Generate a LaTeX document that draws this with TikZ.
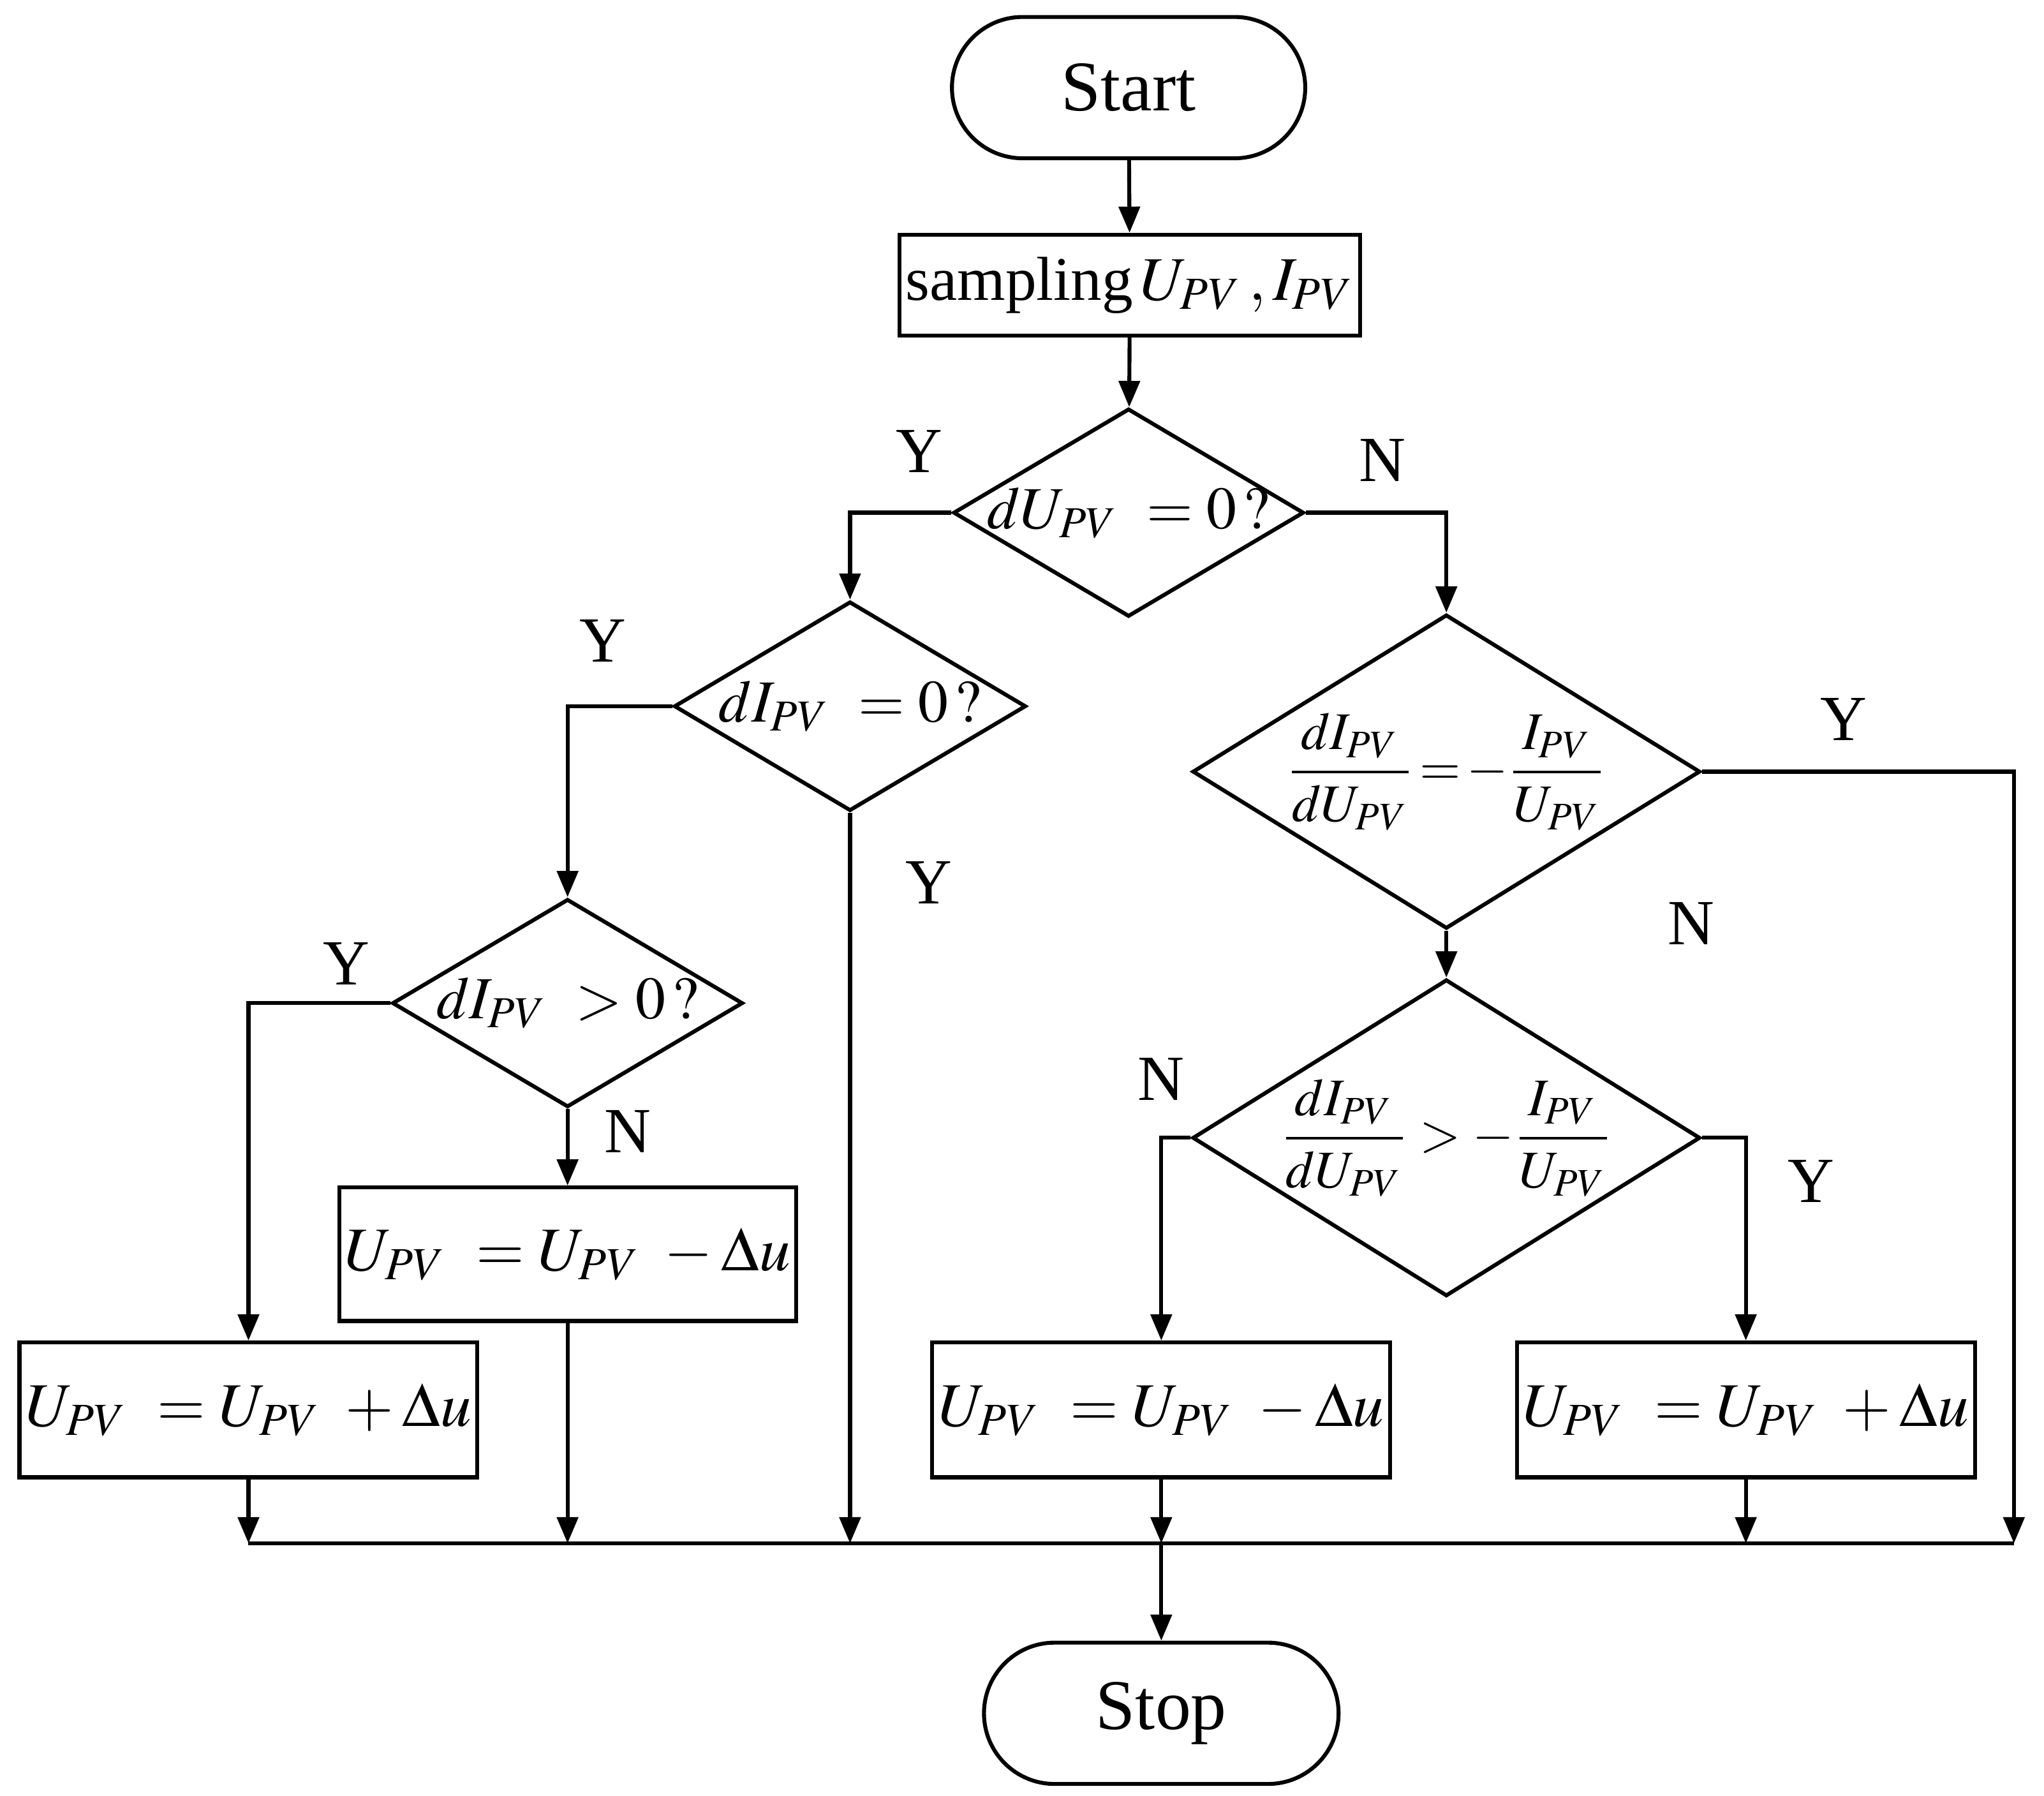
\documentclass[tikz,border=0pt]{standalone}
\usepackage{amsmath}
\usepackage{mathptmx}
\usepackage{fontspec}
\setmainfont{Liberation Serif}
\usetikzlibrary{shapes.geometric,arrows.meta}
\begin{document}
\begin{tikzpicture}[x=0.01cm,y=-0.01cm,line width=0.85pt,
  every node/.style={font=\fontsize{12}{14}\selectfont},
  term/.style={draw,rounded corners=0.54cm,minimum width=2.7cm,minimum height=1.08cm,inner sep=0pt,font=\fontsize{15.5}{18}\selectfont},
  box/.style={draw,minimum width=3.5cm,minimum height=1.03cm,inner sep=0pt,font=\fontsize{13.5}{16}\selectfont},
  dec/.style={draw,diamond,inner sep=0pt},
  dtxt/.style={font=\fontsize{13}{15}\selectfont},
  ftxt/.style={font=\fontsize{11.5}{14}\selectfont},
  lbl/.style={font=\fontsize{14}{17}\selectfont},
  arr/.style={-{Triangle[length=0.2cm,width=0.16cm]}}]
\useasboundingbox (0,0) rectangle (1563,1373);
\node[term] (start) at (863,67) {Start};
\node[draw,minimum width=3.52cm,minimum height=0.77cm,inner sep=0pt,font=\fontsize{13.5}{16}\selectfont] (samp) at (864,218) {sampling$\,U_{PV}\,, I_{PV}$};
\node[dec,minimum width=2.68cm,minimum height=1.59cm] (d1) at (863,392) {};
\node[dtxt] at (d1) {$dU_{PV}\ =0\,?$};
\node[dec,minimum width=2.69cm,minimum height=1.6cm] (d2) at (650,540) {};
\node[dtxt] at (d2) {$dI_{PV}\ =0\,?$};
\node[dec,minimum width=2.68cm,minimum height=1.59cm] (d3) at (434,767) {};
\node[dtxt] at (d3) {$dI_{PV}\ >0\,?$};
\node[dec,minimum width=3.88cm,minimum height=2.4cm] (d4) at (1106,590) {};
\node[ftxt] at (d4) {$\dfrac{dI_{PV}}{dU_{PV}}\!=\!-\dfrac{I_{PV}}{U_{PV}}$};
\node[dec,minimum width=3.88cm,minimum height=2.42cm] (d5) at (1106,870) {};
\node[ftxt] at (d5) {$\dfrac{dI_{PV}}{dU_{PV}}>-\dfrac{I_{PV}}{U_{PV}}$};
\node[box,minimum width=3.49cm,minimum height=1.02cm] (b1) at (434,959) {$U_{PV}\ =U_{PV}\ -\Delta u$};
\node[box] (b2) at (190,1078) {$U_{PV}\ =U_{PV}\ +\Delta u$};
\node[box] (b3) at (888,1078) {$U_{PV}\ =U_{PV}\ -\Delta u$};
\node[box] (b4) at (1335,1078) {$U_{PV}\ =U_{PV}\ +\Delta u$};
\node[term,minimum width=2.71cm] (stop) at (888,1310) {Stop};
\coordinate (m1) at (190,1180); \coordinate (m2) at (434,1180);
\coordinate (m3) at (650,1180); \coordinate (m4) at (888,1180);
\coordinate (m5) at (1335,1180); \coordinate (m6) at (1540,1180);
\draw[arr] (start) -- (samp);
\draw[arr] (samp) -- (d1);
\draw[arr] (d1.west) -| (d2.north);
\draw[arr] (d1.east) -| (d4.north);
\draw[arr] (d2.west) -| (d3.north);
\draw[arr] (d2.south) -- (m3);
\draw[arr] (d3.west) -| (b2.north);
\draw[arr] (d3.south) -- (b1.north);
\draw[arr] (b1.south) -- (m2);
\draw[arr] (b2.south) -- (m1);
\draw[arr] (d4.east) -| (m6);
\draw[arr] (d4.south) -- (d5.north);
\draw[arr] (d5.west) -| (b3.north);
\draw[arr] (d5.east) -| (b4.north);
\draw[arr] (b3.south) -- (m4);
\draw[arr] (b4.south) -- (m5);
\draw (m1) -- (m6);
\draw[arr] (m4) -- (stop.north);
\node[lbl] at (703,345) {Y};
\node[lbl] at (1057,352) {N};
\node[lbl] at (461,490) {Y};
\node[lbl] at (710,675) {Y};
\node[lbl] at (265,737) {Y};
\node[lbl] at (480,865) {N};
\node[lbl] at (1410,550) {Y};
\node[lbl] at (1293,706) {N};
\node[lbl] at (888,825) {N};
\node[lbl] at (1385,903) {Y};
\end{tikzpicture}
\end{document}
